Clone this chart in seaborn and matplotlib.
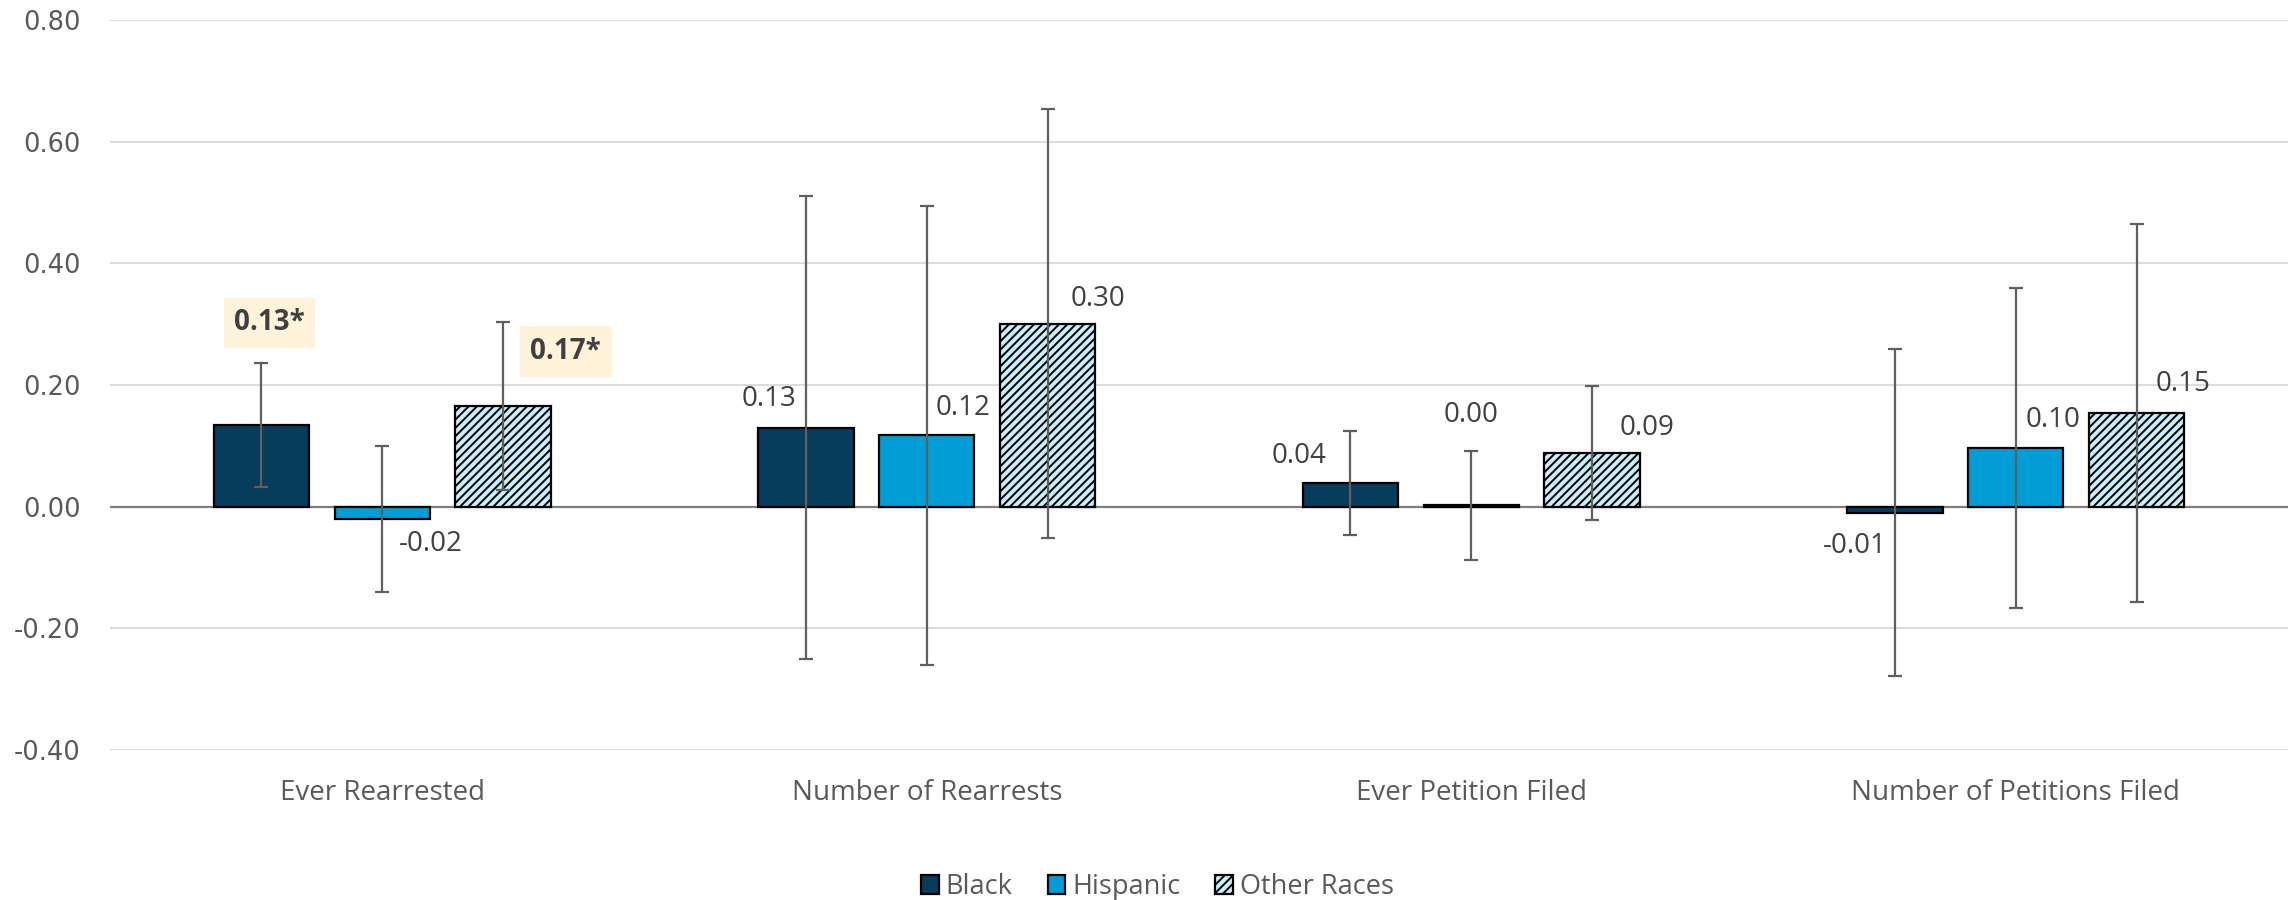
import matplotlib
matplotlib.use("Agg")
import matplotlib.pyplot as plt
import matplotlib.ticker as mticker
import numpy as np
import pandas as pd
import seaborn as sns

# ---- data -------------------------------------------------------------
measures = ["Ever Rearrested", "Number of Rearrests",
            "Ever Petition Filed", "Number of Petitions Filed"]
groups = ["Black", "Hispanic", "Other Races"]

black_vals = [0.134, 0.130, 0.039, -0.010]
hispanic_vals = [-0.021, 0.117, 0.002, 0.097]
other_vals = [0.166, 0.301, 0.088, 0.154]

black_err = [0.102, 0.381, 0.085, 0.269]
hispanic_err = [0.120, 0.378, 0.090, 0.263]
other_err = [0.138, 0.352, 0.110, 0.310]

black_labels = ["0.13*", "0.13", "0.04", "-0.01"]
hispanic_labels = ["-0.02", "0.12", "0.00", "0.10"]
other_labels = ["0.17*", "0.30", "0.09", "0.15"]
significant = [[True, False, False, False],
               [False, False, False, False],
               [True, False, False, False]]

y_ticks = [-0.40, -0.20, 0.00, 0.20, 0.40, 0.60, 0.80]

# label anchors: (offset from bar centre in category units, height in data units)
black_lab_pos = [(0.015, 0.302), (-0.068, 0.177), (-0.094, 0.083), (-0.074, -0.064)]
hispanic_lab_pos = [(0.090, -0.062), (0.066, 0.162), (0.0, 0.151), (0.068, 0.142)]
other_lab_pos = [(0.115, 0.255), (0.093, 0.341), (0.101, 0.129), (0.085, 0.202)]

# ---- styling ------------------------------------------------------------
sns.set_theme(style="white")
plt.rcParams["font.family"] = ["Open Sans", "DejaVu Sans"]
plt.rcParams["hatch.linewidth"] = 1.4

colors = {"Black": "#083C5B", "Hispanic": "#009DD6", "Other Races": "#C9EEFB"}
text_color = "#404040"
axis_text = "#595959"

df = pd.DataFrame({
    "measure": np.repeat(measures, 3),
    "group": groups * len(measures),
    "value": np.ravel(np.column_stack([black_vals, hispanic_vals, other_vals])),
})

fig = plt.figure(figsize=(22.92, 9), dpi=100)
ax = fig.add_axes([110 / 2292, 150 / 900, 2178 / 2292, 730 / 900])

sns.barplot(data=df, x="measure", y="value", hue="group", order=measures,
            hue_order=groups, palette=colors, errorbar=None, width=0.666,
            gap=0.21, edgecolor="black", linewidth=1.6, legend=False,
            saturation=1, ax=ax, zorder=3)

bar_containers = list(ax.containers)

for p in bar_containers[2].patches:
    p.set_hatch("////")
    p.set_edgecolor("black")

vals = [black_vals, hispanic_vals, other_vals]
errs = [black_err, hispanic_err, other_err]
labels = [black_labels, hispanic_labels, other_labels]
lab_pos = [black_lab_pos, hispanic_lab_pos, other_lab_pos]

for gi, cont in enumerate(bar_containers):
    xs = [p.get_x() + p.get_width() / 2 for p in cont.patches]
    ax.errorbar(xs, vals[gi], yerr=errs[gi], fmt="none", ecolor="#5f5f5f",
                elinewidth=1.6, capsize=5, capthick=1.6, zorder=5)
    for j, x in enumerate(xs):
        dx, ly = lab_pos[gi][j]
        if significant[gi][j]:
            ax.text(x + dx, ly, labels[gi][j], ha="center", va="center",
                    fontsize=20, fontweight="bold", color=text_color, zorder=6,
                    bbox=dict(boxstyle="square,pad=0.38", fc="#FFF4D9", ec="none"))
        else:
            ax.text(x + dx, ly, labels[gi][j], ha="center", va="center",
                    fontsize=20, color=text_color, zorder=6)

# axes
ax.set_xlim(-0.5, len(measures) - 0.5)
ax.set_ylim(y_ticks[0], y_ticks[-1])
ax.set_yticks(y_ticks)
ax.yaxis.set_major_formatter(mticker.FuncFormatter(lambda v, _: f"{v:.2f}"))
ax.yaxis.grid(True, color="#D9D9D9", linewidth=1.3)
ax.set_axisbelow(True)
ax.axhline(0, color="#7F7F7F", linewidth=1.6, zorder=2)
for s in ax.spines.values():
    s.set_visible(False)
ax.set_xlabel("")
ax.set_ylabel("")
ax.tick_params(axis="both", length=0)
ax.tick_params(axis="y", pad=21, labelsize=18.5, labelcolor=axis_text)
ax.tick_params(axis="x", pad=21, labelsize=20, labelcolor=axis_text)
for t in ax.get_yticklabels():
    t.set_fontfamily("DejaVu Sans")

# legend
handles = [c.patches[0] for c in bar_containers]
fig.legend(handles, groups, loc="center", bbox_to_anchor=(0.505, 1 - 887 / 900),
           ncol=3, frameon=False, fontsize=19.5, handlelength=0.65, handleheight=0.65,
           handletextpad=0.25, columnspacing=1.3, labelcolor=axis_text)

fig.savefig("out.png", dpi=100, facecolor="white")
